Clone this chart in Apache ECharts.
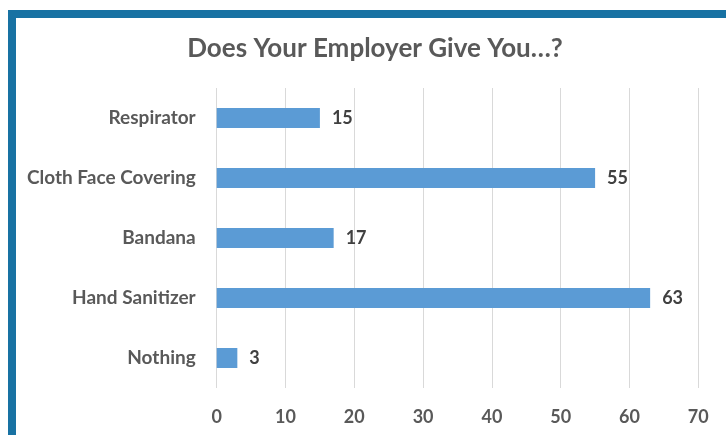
<!DOCTYPE html>
<html>
<head>
<meta charset="utf-8">
<script src="https://cdn.jsdelivr.net/npm/echarts@6/dist/echarts.min.js"></script>
<style>
  html, body { margin: 0; padding: 0; background: #ffffff; }
  #chart { width: 726px; height: 435px; }
</style>
</head>
<body>
<div id="chart"></div>
<script>
// Survey answers, listed bottom to top as drawn on the category axis
const categories = ['Nothing', 'Hand Sanitizer', 'Bandana', 'Cloth Face Covering', 'Respirator'];
const counts = [3, 63, 17, 55, 15];
const xTicks = { min: 0, max: 70, interval: 10 };

const textColor = '#595959';
const fontFamily = 'Lato, "Open Sans", sans-serif';

const chart = echarts.init(document.getElementById('chart'), null, { renderer: 'canvas' });

chart.setOption({
  backgroundColor: '#ffffff',
  animation: false,
  title: {
    text: 'Does Your Employer Give You\u2026?',
    left: 370,
    top: 31,
    textAlign: 'center',
    textStyle: { fontFamily, fontSize: 26, fontWeight: 'bold', color: textColor }
  },
  graphic: [{
    type: 'rect',
    shape: { x: 12, y: 14, width: 900, height: 600 },
    style: { fill: 'none', stroke: '#1872a3', lineWidth: 8 },
    silent: true
  }],
  grid: { left: 216.7, right: 27.7, top: 88, bottom: 47, containLabel: false },
  xAxis: {
    type: 'value',
    min: xTicks.min,
    max: xTicks.max,
    interval: xTicks.interval,
    axisLine: { show: false },
    axisTick: { show: false },
    splitLine: { show: true, lineStyle: { color: '#d9d9d9', width: 1 } },
    axisLabel: { fontFamily, fontSize: 18, fontWeight: 'bold', color: textColor, margin: 20 }
  },
  yAxis: {
    type: 'category',
    data: categories,
    axisLine: { show: false },
    axisTick: { show: false },
    axisLabel: { fontFamily, fontSize: 19, fontWeight: 'bold', color: textColor, margin: 21 }
  },
  series: [{
    type: 'bar',
    data: counts,
    barWidth: 20,
    itemStyle: { color: '#5b9bd5' },
    label: {
      show: true,
      position: 'right',
      distance: 12,
      fontFamily,
      fontSize: 18,
      fontWeight: 'bold',
      color: '#404040'
    }
  }]
});
</script>
</body>
</html>
